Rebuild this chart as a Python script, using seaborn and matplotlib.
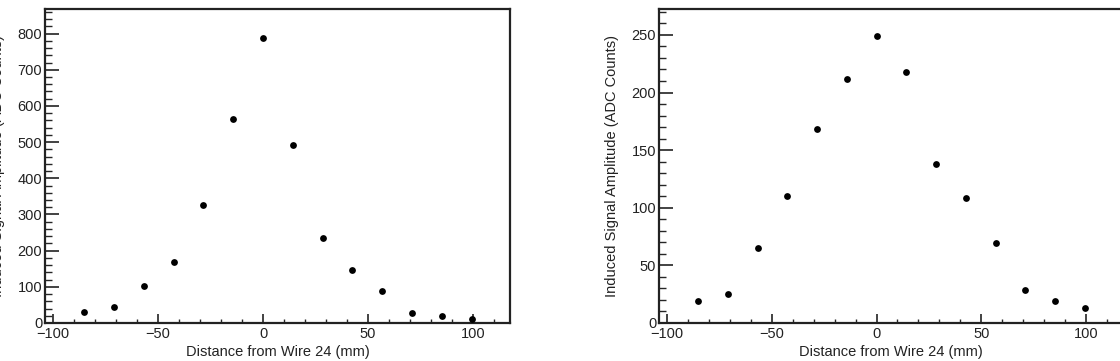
import numpy as np
import pandas as pd
import matplotlib
matplotlib.use("Agg")
import matplotlib.pyplot as plt
from matplotlib.ticker import MultipleLocator
import seaborn as sns

# Data
distance_mm = [-85.2, -71.0, -56.8, -42.6, -28.4, -14.2, 0.0, 14.2, 28.4, 42.6, 56.8, 71.0, 85.2, 99.4]
amp_left = [30.4, 43.4, 101.5, 169.7, 326.6, 564.6, 788.8, 492.6, 234.3, 146.7, 88.6, 26.8, 20.3, 10.1]
amp_right = [18.9, 25.3, 65.0, 110.0, 168.7, 211.7, 248.8, 217.5, 137.6, 108.9, 69.4, 28.7, 19.2, 12.8]

xlabel = "Distance from Wire 24 (mm)"
ylabel = "Induced Signal Amplitude (ADC Counts)"

sns.set_style("ticks")
plt.rcParams["font.family"] = ["Liberation Sans", "DejaVu Sans"]
plt.rcParams["font.size"] = 10.5

fig = plt.figure(figsize=(11.2, 3.61), dpi=100)
W, H = 1120, 361

def make_axes(left_px, right_px, top_px=9, bottom_px=323):
    return fig.add_axes([left_px / W, (H - bottom_px) / H,
                         (right_px - left_px) / W, (bottom_px - top_px) / H])

ax1 = make_axes(45, 510)
ax2 = make_axes(659, 1123)

panels = [
    (ax1, amp_left, 868, 100, 20),
    (ax2, amp_right, 272.5, 50, 10),
]

txt_color = "#222222"
for ax, amps, ymax, ymaj, ymin_step in panels:
    df = pd.DataFrame({"x": distance_mm, "y": amps})
    sns.scatterplot(data=df, x="x", y="y", ax=ax, color="black", s=24,
                    edgecolor="black", linewidth=0, zorder=3)
    ax.set_xlim(-103.8, 117.6)
    ax.set_ylim(0, ymax)
    ax.xaxis.set_major_locator(MultipleLocator(50))
    ax.xaxis.set_minor_locator(MultipleLocator(10))
    ax.yaxis.set_major_locator(MultipleLocator(ymaj))
    ax.yaxis.set_minor_locator(MultipleLocator(ymin_step))
    ax.tick_params(axis="x", which="major", direction="in", length=6.5, width=1.2,
                   pad=3, labelsize=10.5, colors=txt_color)
    ax.tick_params(axis="x", which="minor", direction="in", length=3.2, width=1.0)
    ax.tick_params(axis="y", which="major", direction="in", length=10, width=1.2,
                   pad=2, labelsize=10.5, colors=txt_color)
    ax.tick_params(axis="y", which="minor", direction="in", length=5, width=1.0)
    ax.tick_params(top=False, right=False, which="both")
    for sp in ax.spines.values():
        sp.set_visible(True)
        sp.set_linewidth(1.6)
        sp.set_color("#222222")
    ax.set_xlabel(xlabel, fontsize=10.5, color=txt_color, labelpad=3)
    ax.set_ylabel(ylabel, fontsize=10.5, color=txt_color)
    ax.yaxis.set_label_coords(-40 / 465, 0.5)

fig.savefig("out.png", dpi=100)
